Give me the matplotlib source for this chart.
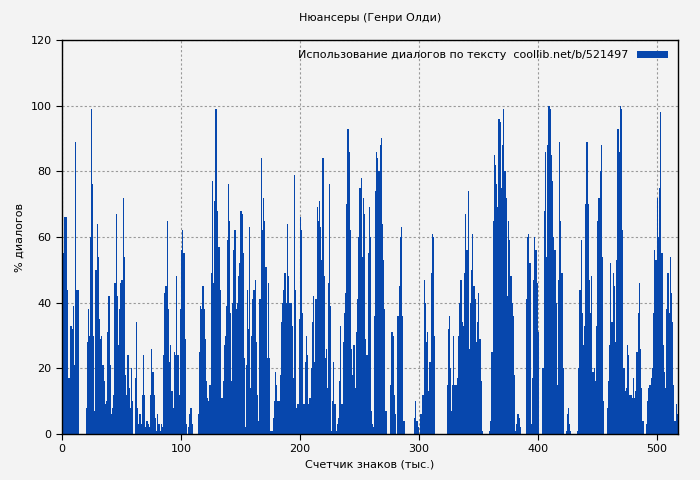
import matplotlib
matplotlib.use("Agg")
import matplotlib.pyplot as plt
import numpy as np

bin_size = 2
# values per 2-unit bin of the x axis, starting at 0
bins = [
 [55],[66],[44,17],[17,33],[32,39],[21,89],[44],[0],[0],[0],[8,28],[38,30,60],[99,76],[30,7],
 [50,64],[54,35],[29,30,25],[21,16],[9,3,10],[31,42],[21,6],[8,12],[46,67],[42,27],[38,46],
 [47,72],[54,18],[12,24],[14,8],[20,10],[0,0,17],[34,26,8],[3,6],[3,12],[24,12],[2,4],[3,2],
 [12,26],[19,12],[5,1],[6,3],[1,3],[2,24],[43,45],[65,38],[22,27],[13,8],[25,24],[48,24],
 [12,38],[56,62],[55,29],[3,0],[2,6],[8,3],[0],[0],[6,25],[39,38],[45,38],[29,16],[11,10],
 [15,49],[77,46],[71,99],[68,57],
 [57,44],[11,16],[27,30],[39,59,76],[65,37],[16,40],[56,62],[38,40],[48,52,47],[68,67],[55,23],
 [2,21,44],[32,63],[14,30],[41,44],[47,28],[12,4],[41,84],[62,72],[65,51],[23,46],[23,1],[1,5],
 [10,19],[15,10],[10,18],[34,40],[44,49],[40,64],[48,40],[40,33],[17,45,79],[44,8],[9,35],
 [66,71,62],[37,9],[22,30],[24,9],[11,20],[34,42],[22,41],[69,65],[71,63],[53,84],[48,23],
 [26,14],[46,76,39],[1,10],[22,9],[1,3],[5,16],[33,9],[28,37],[43,70],[93,86],[62,26],[18,27],
 [14,31],[41,60],[75,78],[54,72],[67,29],[24,55],[69,60],[7,3,2],
 [36,74],[86,84,77],[80,88],[90,64],[53,38],[7,0],[0],[15,31],[29,30,12],[6,0],[36,45],[60,63],
 [36,4],[0],[0],[0],[0],[5,10],[4,2],[0,6],[6,12],[26,47,40],[28,31],[13,22],[49,61],[60,30],
 [0],[0],[0],[0],[0],[15,32,36],[20,7],[15,30],[15,15],[17,30],[40,47],[34,33],[49,67],[56,74],
 [26,40],[50,61],[45,41],[28,34],[43,29],[16,1],[0],[0],[0,1],[4,25],[65,85],[82,76],[69,96],
 [95,75],[88,99],[80,72],[42,65],[59,48],[40,36],[18,1],[3,6],[5,2],[0],[0],[41,60],[61,52],
 [10,3,17],
 [47,60],[56,46],[31,0],[0],[20,68],[86,54],[88,100],[99,85],[77,60],[56,40],[15,47],[89,65],
 [49,20],[0],[1,6,8],[3,1],[0],[0],[0,1],[20,44],[59,37],[27,33],[70,89],[70,47],[37,48],
 [19,20],[16,33],[65,72],[80,88],[54,10],[0],[8,16],[27,52],[34,49],[45,28],[53,93],[86,100],
 [99,62],[20,13],[14,27],[24,12],[12,11],[17,11],[13,25],[37,46],[26,14],[4,0],[0,3],[10,14],
 [15,17],[20,37],[56,53],[72,60],[75,98],[55,27],[19,14],[38,49],[37,54],[43,34],[15,4],[9,6],[1],
]

xs, ys, ws = [], [], []
for i, b in enumerate(bins):
    n = len(b)
    w = bin_size / n
    for j, v in enumerate(b):
        xs.append(i * bin_size + j * w)
        ys.append(v)
        ws.append(w)

bg = "#f3f3f3"
fig = plt.figure(figsize=(7, 4.8), dpi=100, facecolor=bg)
ax = fig.add_axes([0.0886, 0.0958, 0.88, 0.8209], facecolor=bg)
ax.bar(xs, ys, width=ws, align="edge", color="#0747ad", linewidth=0,
       label="Использование диалогов по тексту  coollib.net/b/521497")
ax.set_xlim(0, 518)
ax.set_ylim(0, 120)
ax.set_xticks([0, 100, 200, 300, 400, 500])
ax.set_yticks([0, 20, 40, 60, 80, 100, 120])
ax.grid(True, color="#999999", linestyle=(0, (2, 2)), linewidth=0.8)
ax.set_axisbelow(True)
ax.tick_params(labelsize=8, length=4)
for s in ax.spines.values():
    s.set_linewidth(1)
ax.set_title("Нюансеры (Генри Олди)", fontsize=8, pad=14)
ax.set_xlabel("Счетчик знаков (тыс.)", fontsize=8)
ax.set_ylabel("% диалогов", fontsize=8)
leg = ax.legend(loc="upper right", fontsize=8, frameon=False, markerfirst=False,
                handlelength=2.8, handleheight=0.6)
fig.savefig("out.png", dpi=100, facecolor=bg)
